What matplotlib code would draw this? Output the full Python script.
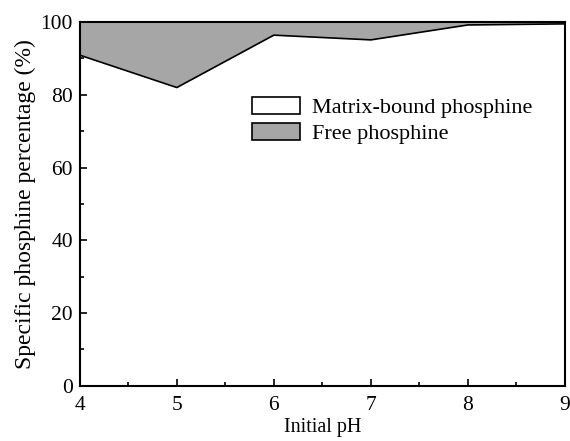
import matplotlib
matplotlib.use("Agg")
import matplotlib.pyplot as plt
from matplotlib.patches import Patch
from matplotlib.ticker import MultipleLocator

ph = [4, 5, 6, 7, 8, 9]
matrix_bound = [90.9, 82.0, 96.4, 95.1, 99.2, 99.5]

plt.rcParams["font.family"] = ["Liberation Serif", "DejaVu Serif"]
plt.rcParams["font.size"] = 15.5

fig = plt.figure(figsize=(5.7, 4.41), dpi=100)
ax = fig.add_axes([0.140, 0.125, 0.851, 0.825])

# free phosphine fills the gap up to 100 %
ax.fill_between(ph, matrix_bound, 100, color="#a6a6a6", linewidth=0)
ax.fill_between(ph, 0, matrix_bound, color="white", linewidth=0)
ax.plot(ph, matrix_bound, color="black", linewidth=1.2)

ax.set_xlim(4, 9)
ax.set_ylim(0, 100)
ax.xaxis.set_major_locator(MultipleLocator(1))
ax.xaxis.set_minor_locator(MultipleLocator(0.5))
ax.yaxis.set_major_locator(MultipleLocator(20))
ax.yaxis.set_minor_locator(MultipleLocator(10))
ax.tick_params(which="both", direction="in", width=1.2)
ax.tick_params(which="major", length=5)
ax.tick_params(which="minor", length=3)
ax.tick_params(axis="x", which="major", pad=7.5)
ax.tick_params(axis="y", which="major", pad=5)
for s in ax.spines.values():
    s.set_linewidth(1.5)

ax.set_xlabel("Initial pH", fontsize=14.5, labelpad=2)
ax.set_ylabel("Specific phosphine percentage (%)", fontsize=17, labelpad=3)

handles = [Patch(facecolor="white", edgecolor="black", linewidth=1.2, label="Matrix-bound phosphine"),
           Patch(facecolor="#a6a6a6", edgecolor="black", linewidth=1.2, label="Free phosphine")]
ax.legend(handles=handles, loc="upper left", bbox_to_anchor=(0.332, 0.825), frameon=False,
          borderpad=0, handlelength=2.16, handleheight=0.81, handletextpad=0.54,
          labelspacing=0.2, fontsize=16)

fig.savefig("out.png", dpi=100)
